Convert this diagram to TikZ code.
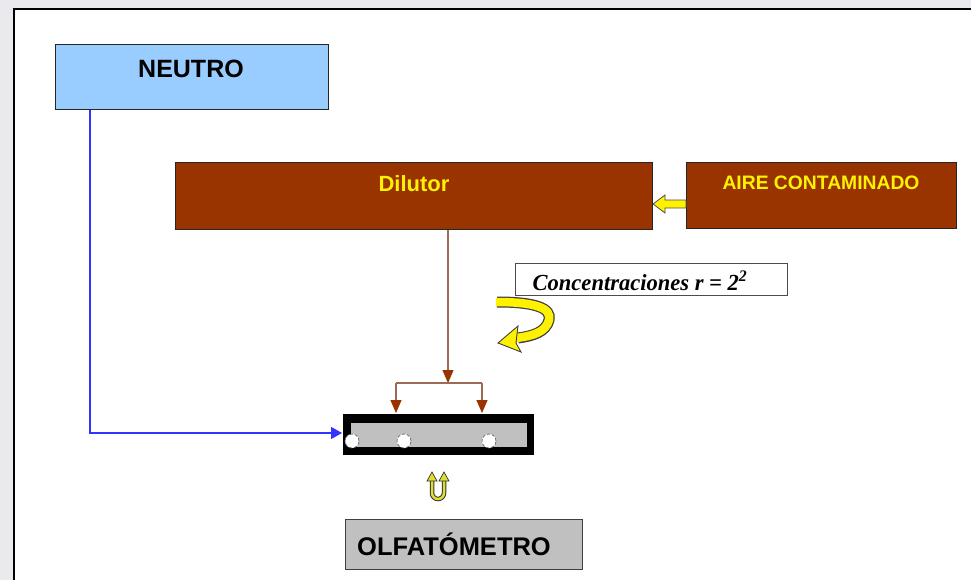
\documentclass[tikz,border=0pt]{standalone}
\usepackage{fontspec}
\setmainfont{Liberation Sans}
\newfontfamily\serifit{Liberation Serif}
\usetikzlibrary{arrows.meta}
\definecolor{bgray}{HTML}{E9E9EE}
\definecolor{nblue}{HTML}{99CCFF}
\definecolor{dbrown}{HTML}{993300}
\definecolor{lbrown}{HTML}{9E6A55}
\definecolor{tgray}{HTML}{C0C0C0}
\definecolor{lblue}{HTML}{3333FF}
\definecolor{uyel}{HTML}{DDDD33}
\tikzset{
  boxn/.style={draw=black!85, line width=1.1pt, inner sep=0pt, anchor=north west},
  lbl/.style={inner sep=0pt, font=\bfseries},
  brownline/.style={draw=lbrown, line width=1.2pt, -{Triangle[width=11pt,length=13pt,fill=dbrown,color=dbrown]}},
}
\begin{document}
\begin{tikzpicture}[x=1pt,y=-1pt]
\useasboundingbox (0,0) rectangle (971,580);
\fill[bgray] (0,0) rectangle (971,580);
\fill[white] (14,9) rectangle (971,580);
\draw[black, line width=1.5pt] (14,580) -- (14,9) -- (971,9);

% boxes
\node[boxn, fill=nblue, minimum width=273pt, minimum height=65pt] (neutro) at (55,44) {};
\node[lbl, font=\bfseries\fontsize{25}{25}\selectfont] (neutroT) at (191,69) {NEUTRO};

\node[boxn, fill=dbrown, minimum width=477pt, minimum height=67pt] (dilutor) at (175,162) {};
\node[lbl, text=yellow, font=\bfseries\fontsize{22}{22}\selectfont] (dilutorT) at (414,184) {Dilutor};

\node[boxn, fill=dbrown, minimum width=270pt, minimum height=66pt] (aire) at (686,162) {};
\node[lbl, text=yellow, font=\bfseries\fontsize{19.5}{19.5}\selectfont, xscale=0.99] (aireT) at (821,183) {AIRE CONTAMINADO};

\node[boxn, draw=black!70, line width=1.3pt, minimum width=272pt, minimum height=32pt] (conc) at (515,263) {};
\node[inner sep=0pt, font=\serifit\bfseries\itshape\fontsize{23}{23}\selectfont, xscale=0.98] (concT) at (640,281) {Concentraciones r = 2\textsuperscript{2}};

\node[boxn, fill=tgray, draw=black!75, line width=1.3pt, minimum width=237pt, minimum height=50pt] (olfa) at (345,519) {};
\node[lbl, font=\bfseries\fontsize{25.5}{25.5}\selectfont] (olfaT) at (454,544) {OLFATÓMETRO};

% tray
\node[boxn, fill=black, draw=none, minimum width=191pt, minimum height=41pt] (tray) at (342,413) {};
\node[boxn, fill=tgray, draw=none, minimum width=176pt, minimum height=24pt] (trayin) at (350,422) {};
\foreach \n/\x in {c1/352, c2/404, c3/489}
  \node[circle, fill=white, draw=black!60, densely dashed, line width=0.7pt, minimum size=14pt, inner sep=0pt] (\n) at (\x,441) {};

% yellow arrow from AIRE to Dilutor
\fill[yellow, draw=black!70, line width=0.8pt]
  (aire.west |- 0,200) -- (665,200) -- (665,195) -- (dilutor.east |- 0,204) -- (665,213) -- (665,208) -- (aire.west |- 0,208) -- cycle;

% brown connectors
\coordinate (split) at (448,383);
\coordinate (sl) at (396,383);
\coordinate (sr) at (482,383);
\draw[brownline] (dilutor.south -| split) -- (split);
\draw[draw=lbrown, line width=1.2pt] (sl) -- (sr);
\draw[brownline] (sl) -- (sl |- tray.north);
\draw[brownline] (sr) -- (sr |- tray.north);

% blue connector
\coordinate (bcorner) at (90,433);
\draw[lblue, line width=1.5pt, -{Triangle[width=12pt,length=11pt]}] (neutro.south -| bcorner) -- (bcorner) -- (tray.west |- bcorner);

% curved yellow arrow
\draw[black!75, line width=11pt] (497,302) .. controls (535,302) and (552,308) .. (549,320) .. controls (546,332) and (533,336) .. (518,338);
\draw[yellow, line width=8.5pt] (496,302) .. controls (535,302) and (552,308) .. (549,320) .. controls (546,332) and (533,336) .. (516,338);
\fill[yellow, draw=black!75, line width=0.9pt] (498,343) -- (518,326) -- (517,334) -- (516,343) -- (521,352) -- cycle;

% small U-turn arrow
\draw[black!80, line width=4.5pt] (432,480) -- (432,493) arc[start angle=180, end angle=360, radius=6pt] -- (444,480);
\draw[uyel, line width=2.5pt] (432,479) -- (432,493) arc[start angle=180, end angle=360, radius=6pt] -- (444,479);
\fill[uyel, draw=black!80, line width=0.7pt] (427,481) -- (432,472) -- (437,481) -- cycle;
\fill[uyel, draw=black!80, line width=0.7pt] (439,481) -- (444,472) -- (449,481) -- cycle;
\end{tikzpicture}
\end{document}
